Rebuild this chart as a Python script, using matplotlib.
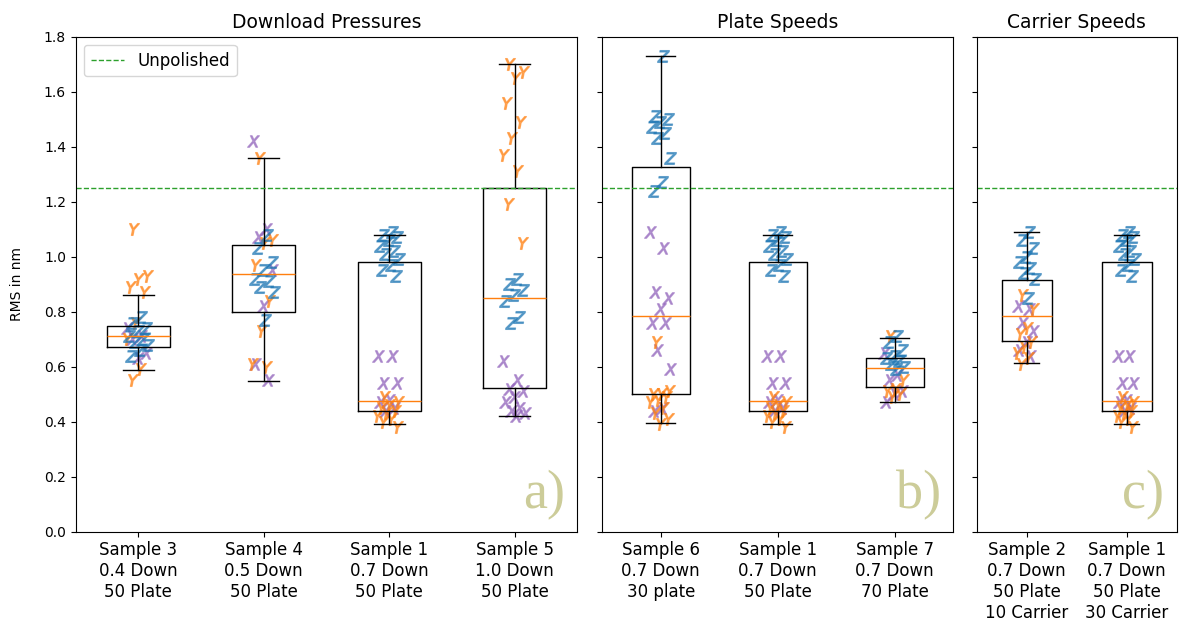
import numpy as np
import matplotlib
matplotlib.use("Agg")
import matplotlib.pyplot as plt

# box statistics: whisker low, q1, median, q3, whisker high
box_s1 = [0.39, 0.44, 0.475, 0.98, 1.08]
box_s2 = [0.613, 0.695, 0.785, 0.915, 1.089]
box_s3 = [0.587, 0.672, 0.713, 0.749, 0.861]
box_s4 = [0.549, 0.80, 0.937, 1.042, 1.359]
box_s5 = [0.42, 0.521, 0.851, 1.249, 1.70]
box_s6 = [0.394, 0.50, 0.785, 1.327, 1.73]
box_s7 = [0.472, 0.526, 0.595, 0.632, 0.703]

# individual measurements, grouped by the X / Y / Z marker
s1_x = [0.64, 0.64, 0.54, 0.54, 0.48, 0.47, 0.45, 0.44]
s1_y = [0.49, 0.47, 0.46, 0.45, 0.44, 0.43, 0.42, 0.41, 0.40, 0.38]
s1_z = [1.09, 1.08, 1.07, 1.06, 1.04, 1.02, 1.01, 0.99, 0.97, 0.95, 0.93]

s2_x = [0.82, 0.81, 0.76, 0.73, 0.69, 0.66, 0.64]
s2_y = [0.86, 0.81, 0.74, 0.72, 0.69, 0.67, 0.65, 0.63, 0.61]
s2_z = [1.09, 1.06, 1.03, 1.00, 0.98, 0.96, 0.94, 0.92, 0.85]

s3_x = [0.74, 0.71, 0.70, 0.65, 0.63]
s3_y = [1.10, 0.93, 0.92, 0.89, 0.87, 0.76, 0.70, 0.59, 0.55]
s3_z = [0.78, 0.76, 0.74, 0.73, 0.71, 0.70, 0.69, 0.68, 0.66, 0.64]

s4_x = [1.42, 1.10, 1.07, 0.95, 0.82, 0.61, 0.55]
s4_y = [1.36, 1.06, 1.05, 0.97, 0.84, 0.73, 0.61, 0.60]
s4_z = [1.08, 1.03, 0.98, 0.95, 0.92, 0.91, 0.89, 0.87, 0.77]

s5_x = [0.62, 0.55, 0.52, 0.51, 0.49, 0.47, 0.45, 0.44, 0.43, 0.42]
s5_y = [1.70, 1.67, 1.65, 1.56, 1.49, 1.43, 1.37, 1.31, 1.19, 1.05]
s5_z = [0.92, 0.90, 0.88, 0.86, 0.84, 0.78, 0.76]

s6_x = [1.09, 1.03, 0.87, 0.85, 0.81, 0.76, 0.76, 0.66, 0.59, 0.45, 0.44]
s6_y = [0.69, 0.51, 0.50, 0.50, 0.49, 0.48, 0.47, 0.45, 0.43, 0.41, 0.39]
s6_z = [1.73, 1.51, 1.50, 1.49, 1.47, 1.45, 1.43, 1.36, 1.27, 1.24]

s7_x = [0.65, 0.57, 0.55, 0.51, 0.50, 0.47]
s7_y = [0.71, 0.55, 0.52, 0.51, 0.50, 0.49]
s7_z = [0.71, 0.69, 0.66, 0.64, 0.63, 0.62, 0.61, 0.60, 0.59]

unpolished = 1.25

labels_a = ["Sample 3\n0.4 Down\n50 Plate", "Sample 4\n0.5 Down\n50 Plate",
            "Sample 1\n0.7 Down\n50 Plate", "Sample 5\n1.0 Down\n50 Plate"]
labels_b = ["Sample 6\n0.7 Down\n30 plate", "Sample 1\n0.7 Down\n50 Plate",
            "Sample 7\n0.7 Down\n70 Plate"]
labels_c = ["Sample 2\n0.7 Down\n50 Plate\n10 Carrier",
            "Sample 1\n0.7 Down\n50 Plate\n30 Carrier"]

s1 = (box_s1, s1_x, s1_y, s1_z)
s2 = (box_s2, s2_x, s2_y, s2_z)
s3 = (box_s3, s3_x, s3_y, s3_z)
s4 = (box_s4, s4_x, s4_y, s4_z)
s5 = (box_s5, s5_x, s5_y, s5_z)
s6 = (box_s6, s6_x, s6_y, s6_z)
s7 = (box_s7, s7_x, s7_y, s7_z)

panels = [
    ("Download Pressures", [s3, s4, s1, s5], labels_a, "a)"),
    ("Plate Speeds", [s6, s1, s7], labels_b, "b)"),
    ("Carrier Speeds", [s2, s1], labels_c, "c)"),
]

W, H = 1181, 623
rects = [(75.7, 501.6), (602.3, 351.0), (976.7, 200.0)]
bottom, height = (H - 531.7) / H, 495.0 / H

markers = [("$X$", "tab:purple"), ("$Y$", "tab:orange"), ("$Z$", "tab:blue")]


def jitter(n, k):
    # fixed spread so the letters don't sit on top of each other
    return ((np.arange(n) * 0.618 + 0.31 * k) % 1 - 0.5) * 0.18


fig = plt.figure(figsize=(W / 100, H / 100), dpi=100)
ax0 = None
for (title, samples, labels, tag), (left, width) in zip(panels, rects):
    ax = fig.add_axes([left / W, bottom, width / W, height], sharey=ax0)
    if ax0 is None:
        ax0 = ax
    pos = np.arange(1, len(samples) + 1)
    stats = []
    for box, *_ in samples:
        lo, q1, med, q3, hi = box
        stats.append(dict(whislo=lo, q1=q1, med=med, q3=q3, whishi=hi, fliers=[]))
    for p, (box, *groups) in zip(pos, samples):
        for k, (vals, (m, c)) in enumerate(zip(groups, markers)):
            ax.plot(p + jitter(len(vals), k), vals, ls="none", marker=m,
                    color=c, alpha=0.6, markersize=8.5, markeredgewidth=0.9,
                    zorder=1)
    ax.bxp(stats, positions=pos, widths=0.5, showfliers=False, zorder=2)
    ax.axhline(unpolished, color="tab:green", ls="--", lw=1, label="Unpolished")
    ax.set_xlim(0.5, len(samples) + 0.5)
    ax.set_xticks(pos, labels, fontsize=12)
    ax.set_title(title, fontsize=13.5)
    ax.annotate(tag, xy=(1, 0), xycoords="axes fraction", xytext=(-9, 17),
                textcoords="offset points", ha="right", va="baseline",
                fontsize=39, family="Liberation Serif", color="#cccc99")
    if ax is not ax0:
        ax.tick_params(labelleft=False)

ax0.set_ylim(0, 1.8)
ax0.set_yticks(np.arange(0, 1.81, 0.2))
ax0.set_ylabel("RMS in nm", fontsize=10, labelpad=14)
ax0.legend(loc="upper left", fontsize=12)

fig.savefig("out.png", dpi=100)
